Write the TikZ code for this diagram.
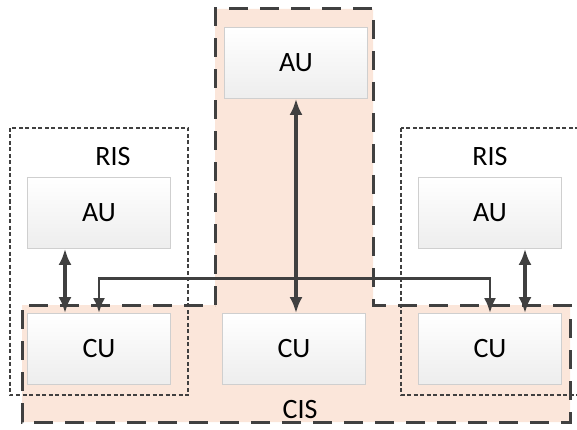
\documentclass[tikz,border=0pt]{standalone}
\usepackage{fontspec}
\setmainfont{Carlito}
\usepackage{xcolor}
\usepackage{tikz}
\usetikzlibrary{arrows.meta}

\definecolor{cisfill}{HTML}{FBE6DA}
\definecolor{linegray}{HTML}{404040}
\definecolor{unitedge}{HTML}{CFCFCF}

\begin{document}
\begin{tikzpicture}[x=1pt,y=-1pt,
  unit/.style={draw=unitedge,line width=0.8pt,top color=white,bottom color=black!7,
    minimum width=143pt,minimum height=71pt,inner sep=0pt,font=\fontsize{28}{32}\selectfont},
  label/.style={font=\fontsize{28}{32}\selectfont},
  ris/.style={draw=linegray,line width=2pt,dash pattern=on 4pt off 2.5pt},
  link/.style={draw=linegray,line width=4.5pt,{Latex[length=16pt,width=13pt]}-{Latex[length=16pt,width=13pt]}},
  bus/.style={draw=linegray,line width=2.8pt}]
  \useasboundingbox (0,0) rectangle (577,430);
  \clip (0,0) rectangle (577,430);

  % Central CIS (T shape)
  \fill[cisfill] (215,9) -- (373,9) -- (373,305) -- (570,305) -- (570,422)
    -- (22,422) -- (22,305) -- (215,305) -- cycle;
  \draw[linegray,line width=3pt,dash pattern=on 19pt off 12pt]
    (215,305) -- (215,9) -- (373,9) -- (373,305) -- (570,305) -- (570,422)
    -- (22,422) -- (22,305) -- (215,305);
  \node[label] (cis) at (300,410) {CIS};

  % Left RIS
  \draw[ris] (10,128) rectangle (188,395);
  \node[label] (risL) at (113,157) {RIS};

  % Right RIS
  \draw[ris] (401,128) rectangle (600,395);
  \node[label] (risR) at (490,157) {RIS};

  % Units
  \node[unit] (auC) at (296,63) {AU};
  \node[unit] (auL) at (99,213) {AU};
  \node[unit] (auR) at (490,213) {AU};
  \node[unit] (cuL) at (99,349) {CU};
  \node[unit] (cuC) at (294,349) {CU};
  \node[unit] (cuR) at (490,349) {CU};

  % CU to CU
  \draw[bus,{Latex[length=15pt,width=12pt]}-{Latex[length=15pt,width=12pt]}]
    (cuL.north) -- ++(0,-35) -| (cuR.north);

  % AU to CU
  \draw[link] ([xshift=-34pt]auL.south) -- ([xshift=-34pt]cuL.north);
  \draw[link] ([xshift=35pt]auR.south) -- ([xshift=35pt]cuR.north);
  \draw[link,line width=3.4pt] (auC.south) -- (auC.south |- cuC.north);

\end{tikzpicture}
\end{document}
